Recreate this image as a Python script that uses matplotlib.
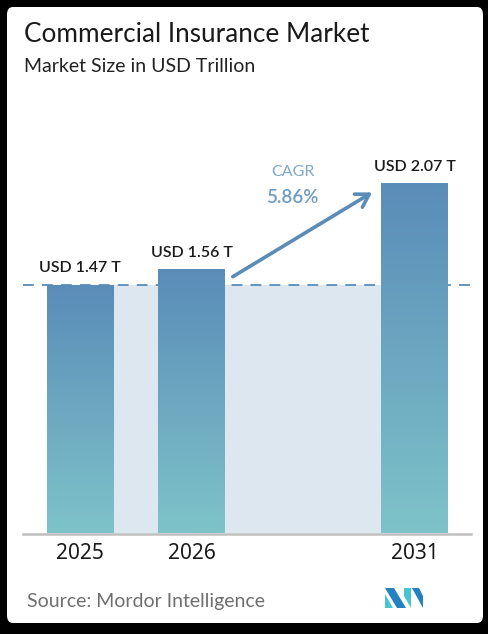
import numpy as np
import matplotlib.pyplot as plt
from matplotlib.patches import FancyBboxPatch, Polygon
from matplotlib.lines import Line2D
from matplotlib.colors import LinearSegmentedColormap

years = ["2025", "2026", "2031"]
positions = [0, 1, 3]
values = [1.47, 1.56, 2.07]
value_labels = ["USD 1.47 T", "USD 1.56 T", "USD 2.07 T"]
cagr_text = "5.86%"

W, H = 489, 634
fig = plt.figure(figsize=(W / 100, H / 100), dpi=100)
fig.patch.set_facecolor("black")

def fx(px):
    return px / W

def fy(py):
    return 1 - py / H

# white card with rounded corners
card = FancyBboxPatch((fx(7), fy(623)), fx(476), (616) / H,
                      boxstyle="round,pad=0,rounding_size=0.012",
                      transform=fig.transFigure, facecolor="white", edgecolor="none",
                      zorder=-5)
fig.patches.append(card)

plt.rcParams["font.family"] = ["Lato", "DejaVu Sans"]

fig.text(fx(24), fy(35), "Commercial Insurance Market", fontsize=18.8, color="#1a1a1a",
         va="center", ha="left")
fig.text(fx(24), fy(66), "Market Size in USD Trillion", fontsize=14, color="#222222",
         va="center", ha="left")

# axes: baseline at y=533, x from 23 to 471 px
ax_left, ax_right, ax_bottom, ax_top = 23, 471, 533, 100
ax = fig.add_axes([fx(ax_left), fy(ax_bottom), (ax_right - ax_left) / W, (ax_bottom - ax_top) / H])
ax.set_facecolor("none")
for s in ax.spines.values():
    s.set_visible(False)
ax.set_xticks([])
ax.set_yticks([])

bw = 0.6
top_col = "#5a8cb8"
bot_col = "#7ec3c9"
cmap = LinearSegmentedColormap.from_list("bar", [bot_col, top_col])
grad = np.linspace(0, 1, 256).reshape(-1, 1)

# shaded band between first and last bar
ax.fill_between([positions[0] + bw / 2, positions[2] - bw / 2], 0, values[0],
                color="#dde7f0", lw=0, zorder=1)
# dashed reference line at first value
ax.axhline(values[0], color="#5a8cb8", lw=1.3, ls=(0, (6, 4.5)), zorder=2)

for p, v, lab in zip(positions, values, value_labels):
    ax.imshow(grad, extent=[p - bw / 2, p + bw / 2, 0, v], origin="lower",
              cmap=cmap, aspect="auto", zorder=3)
    ax.text(p, v + 0.06, lab, ha="center", va="bottom", fontsize=11.5, color="#1a1a1a",
            fontweight="semibold", zorder=4)

ax.set_xlim(-0.511, 3.507)
ax.set_ylim(0, (ax_bottom - ax_top) / 168.6)

# baseline
fig.add_artist(Line2D([fx(ax_left), fx(ax_right)], [fy(533.5), fy(533.5)],
                      color="#bfbfbf", lw=1.8, zorder=10))

# CAGR arrow
ax.annotate("", xy=(2.62, 2.02), xytext=(1.37, 1.52),
            arrowprops=dict(arrowstyle="->,head_length=0.9,head_width=0.55",
                            color="#5a8cb8", lw=2.6, shrinkA=0, shrinkB=0), zorder=6)
fig.text(fx(293), fy(172), "CAGR", fontsize=11.5, color="#7ea8c9", ha="center", va="center")
fig.text(fx(292), fy(197), cagr_text, fontsize=13.5, color="#6b9cc4", ha="center",
         va="center", fontweight="semibold")

# year labels
for p, y in zip(positions, years):
    ax.text(p, -0.12, y, ha="center", va="center", fontsize=15, color="#1a1a1a",
            family=["Noto Sans", "DejaVu Sans"])

fig.text(fx(27), fy(601), "Source: Mordor Intelligence", fontsize=14, color="#6f6f6f",
         ha="left", va="center")

# logo
logo = [
    ([(385, 588), (394, 588), (406, 608), (397, 608)], "#2481c0"),
    ([(385, 594), (385, 608), (393, 608)], "#46c4cf"),
    ([(404, 588), (411, 588), (411, 608), (404, 596)], "#46c4cf"),
    ([(412, 588), (419, 588), (423, 596), (423, 608)], "#2481c0"),
]
for pts, c in logo:
    fig.patches.append(Polygon([(fx(x), fy(y)) for x, y in pts], closed=True,
                               transform=fig.transFigure, facecolor=c, edgecolor="none"))

fig.savefig("out.png", dpi=100, facecolor="black")
